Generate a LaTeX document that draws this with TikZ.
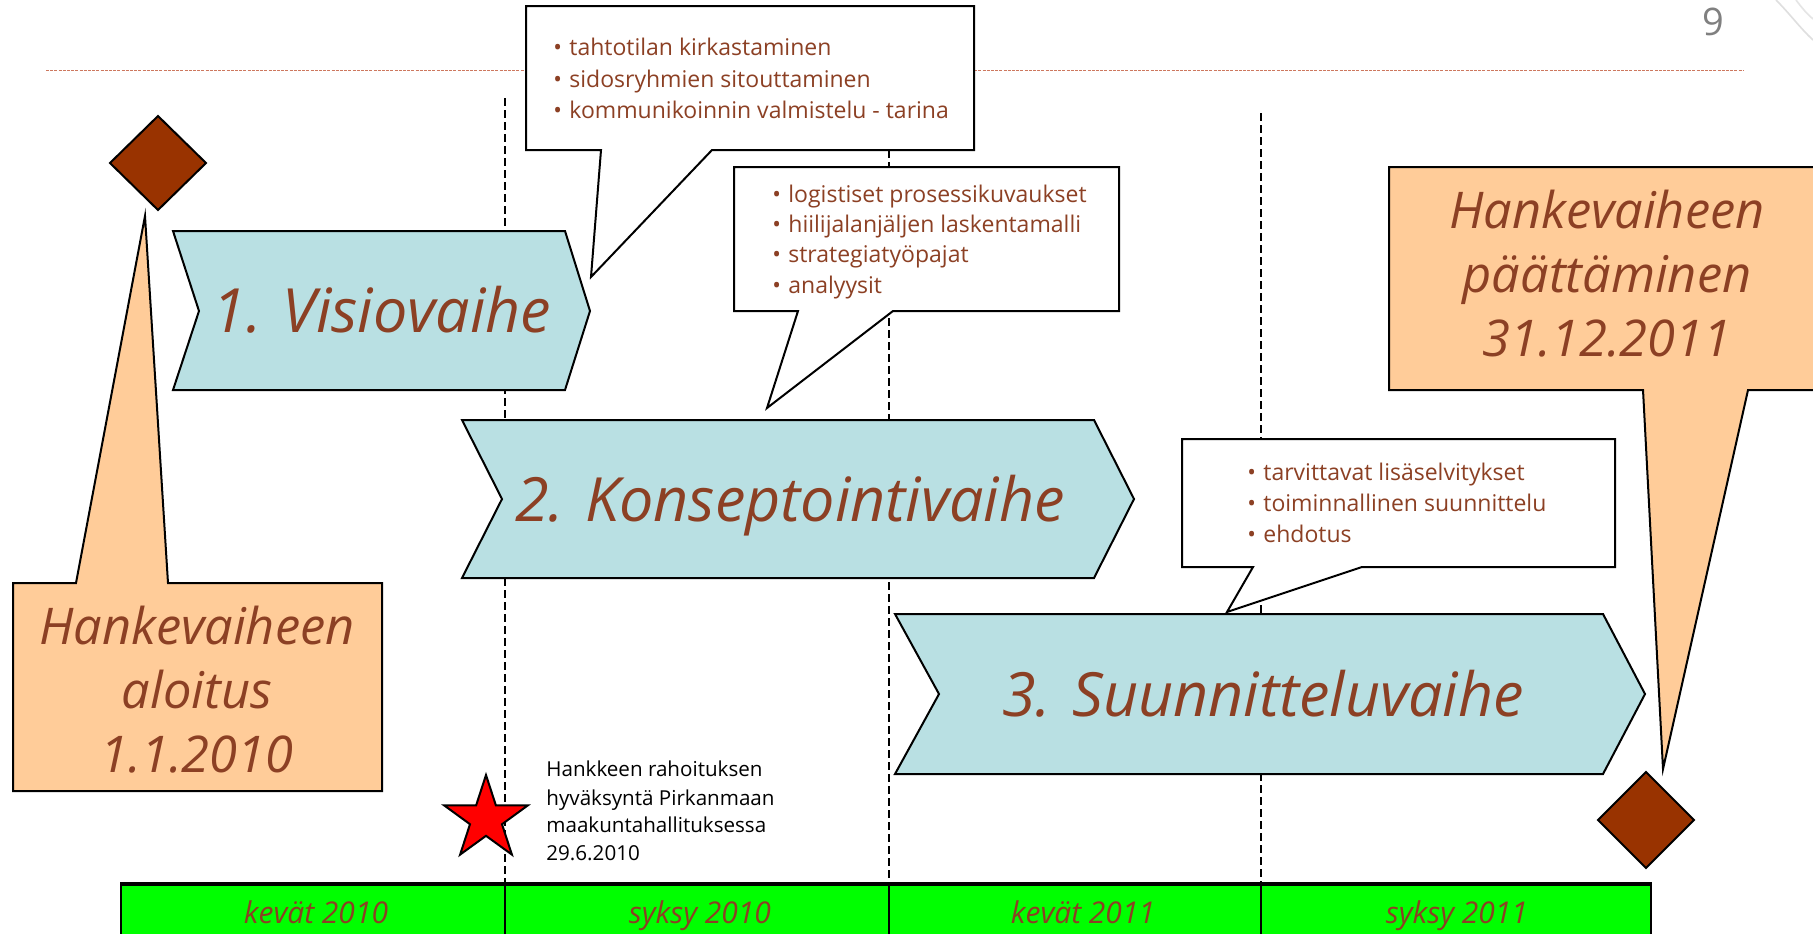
\documentclass[tikz,border=0pt]{standalone}
\usepackage{fontspec}
\setmainfont{Open Sans}
\definecolor{txt}{RGB}{140,64,36}
\definecolor{phase}{RGB}{185,224,227}
\definecolor{peach}{RGB}{255,204,153}
\definecolor{diam}{RGB}{153,51,0}
\definecolor{bar}{RGB}{0,255,0}
\definecolor{topline}{RGB}{205,120,95}
\begin{document}
\begin{tikzpicture}[x=0.5pt,y=-0.5pt,line join=miter,
 outl/.style={draw=black,line width=1pt},
 phasebox/.style={outl,fill=phase},
 bubble/.style={outl,fill=white},
 peachbox/.style={outl,fill=peach},
 ms/.style={outl,fill=diam},
 vline/.style={black,line width=0.75pt,dash pattern=on 4pt off 2pt},
 bul/.style={anchor=base west,inner sep=0,text=txt,font=\fontsize{11.5}{14}\selectfont},
 big/.style={anchor=base,inner sep=0,text=txt,font=\fontsize{30.5}{36}\selectfont\itshape},
 peachtxt/.style={anchor=base,inner sep=0,text=txt,font=\fontsize{25.3}{30}\selectfont\itshape},
 season/.style={anchor=base,inner sep=0,text=txt,font=\fontsize{15}{18}\selectfont\itshape},
 note/.style={anchor=base west,inner sep=0,font=\fontsize{10.3}{13}\selectfont}]
\useasboundingbox (0,0) rectangle (1813,933);
\fill[white] (0,0) rectangle (1813,933);

% page decoration
\draw[gray!25,line width=0.8pt] (1776,0) .. controls (1790,14) and (1800,28) .. (1813,40);
\draw[gray!20,line width=0.8pt] (1796,0) .. controls (1802,8) and (1807,14) .. (1813,19);
\node[anchor=base,inner sep=0,text=gray,font=\fontsize{19}{22}\selectfont] (pnum) at (1713,35) {9};
\draw[topline,line width=0.5pt,dash pattern=on 1.5pt off 0.6pt] (46,70) -- (1743,70);

% vertical dashed guides
\draw[vline] (505,98) -- (505,884);
\draw[vline] (889,150) -- (889,884);
\draw[vline] (1261,113) -- (1261,884);

% milestones
\draw[ms] (158,116) -- (206,163) -- (158,210) -- (110,163) -- cycle;
\draw[ms] (1646,772) -- (1694,820) -- (1646,868) -- (1598,820) -- cycle;

% phase arrows
\draw[phasebox] (173,231) -- (565,231) -- (590,311) -- (565,390) -- (173,390) -- (199,311) -- cycle;
\node[big] (p1) at (382,332) {1. Visiovaihe};
\draw[phasebox] (462,420) -- (1094,420) -- (1134,499) -- (1094,578) -- (462,578) -- (502,499) -- cycle;
\node[big] (p2) at (790,521) {2. Konseptointivaihe};
\draw[phasebox] (895,614) -- (1603,614) -- (1645,694) -- (1603,774) -- (895,774) -- (939,694) -- cycle;
\node[big] (p3) at (1263,716) {3. Suunnitteluvaihe};

% start / end callouts
\draw[peachbox] (13,583) -- (76,583) -- (145,216) -- (168,583) -- (382,583) -- (382,791) -- (13,791) -- cycle;
\node[peachtxt] (s1) at (197,644) {Hankevaiheen};
\node[peachtxt] (s2) at (197,708) {aloitus};
\node[peachtxt] (s3) at (197,772) {1.1.2010};
\draw[peachbox] (1389,167) -- (1818,167) -- (1818,390) -- (1748,390) -- (1663,769) -- (1643,390) -- (1389,390) -- cycle;
\node[peachtxt] (e1) at (1607,228) {Hankevaiheen};
\node[peachtxt] (e2) at (1607,292) {päättäminen};
\node[peachtxt] (e3) at (1607,356) {31.12.2011};

% bubble 1
\draw[bubble] (526,6) -- (974,6) -- (974,150) -- (712,150) -- (591,277) -- (601,150) -- (526,150) -- cycle;
\node[bul] (a1) at (553,55) {\makebox[8pt][l]{•}tahtotilan kirkastaminen};
\node[bul] (a2) at (553,87) {\makebox[8pt][l]{•}sidosryhmien sitouttaminen};
\node[bul] (a3) at (553,118) {\makebox[8pt][l]{•}kommunikoinnin valmistelu - tarina};

% bubble 2
\draw[bubble] (734,167) -- (1119,167) -- (1119,311) -- (893,311) -- (767,408) -- (798,311) -- (734,311) -- cycle;
\node[bul] (b1) at (772,202) {\makebox[8pt][l]{•}logistiset prosessikuvaukset};
\node[bul] (b2) at (772,232) {\makebox[8pt][l]{•}hiilijalanjäljen laskentamalli};
\node[bul] (b3) at (772,262) {\makebox[8pt][l]{•}strategiatyöpajat};
\node[bul] (b4) at (772,293) {\makebox[8pt][l]{•}analyysit};

% bubble 3
\draw[bubble] (1182,439) -- (1615,439) -- (1615,567) -- (1362,567) -- (1227,612) -- (1253,567) -- (1182,567) -- cycle;
\node[bul] (c1) at (1247,480) {\makebox[8pt][l]{•}tarvittavat lisäselvitykset};
\node[bul] (c2) at (1247,511) {\makebox[8pt][l]{•}toiminnallinen suunnittelu};
\node[bul] (c3) at (1247,542) {\makebox[8pt][l]{•}ehdotus};

% funding star
\draw[outl,fill=red] (486,775) -- (495.9,805.4) -- (527.8,805.4) -- (502,824.2) -- (511.9,854.6)
  -- (486,835.8) -- (460.1,854.6) -- (470,824.2) -- (444.2,805.4) -- (476.1,805.4) -- cycle;
\node[note] (n1) at (546,776) {Hankkeen rahoituksen};
\node[note] (n2) at (546,805) {hyväksyntä Pirkanmaan};
\node[note] (n3) at (546,832) {maakuntahallituksessa};
\node[note] (n4) at (546,860) {29.6.2010};

% season bar
\draw[fill=bar,line width=1pt] (121,884) rectangle (1651,945);
\draw[line width=1.6pt] (120,884) -- (1652,884);
\draw[line width=1pt] (505,884) -- (505,940);
\draw[line width=1pt] (889,884) -- (889,940);
\draw[line width=1pt] (1261,884) -- (1261,940);
\node[season] (k1) at (316,923) {kevät 2010};
\node[season] (k2) at (700,923) {syksy 2010};
\node[season] (k3) at (1083,923) {kevät 2011};
\node[season] (k4) at (1457,923) {syksy 2011};
\end{tikzpicture}
\end{document}
